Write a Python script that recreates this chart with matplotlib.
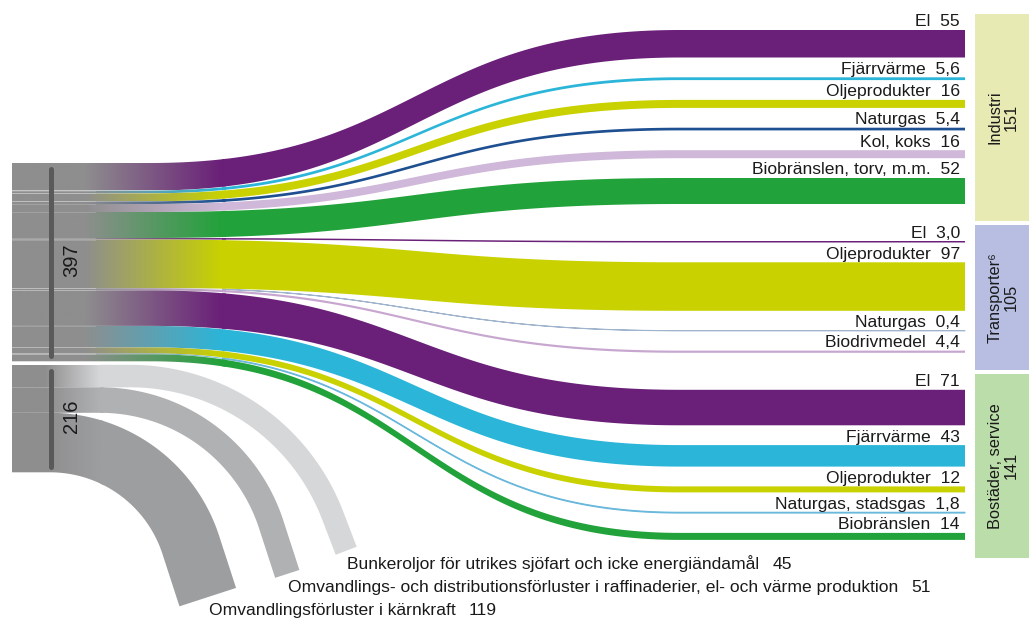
import numpy as np
import matplotlib
matplotlib.use('Agg')
import matplotlib.pyplot as plt
from matplotlib.path import Path
from matplotlib.patches import PathPatch, Rectangle
from matplotlib.colors import to_rgb

# ---------------- data ----------------
sectors = ['Industri', 'Transporter⁶', 'Bostäder, service']
sector_totals = [151, 105, 141]
sector_colors = ['#e8eab4', '#b7bee2', '#badda9']

industri_labels = ['El', 'Fjärrvärme', 'Oljeprodukter', 'Naturgas', 'Kol, koks', 'Biobränslen, torv, m.m.']
industri_values = [55, 5.6, 16, 5.4, 16, 52]
industri_colors = ['#6a1f78', '#2bb5d8', '#c9d200', '#1d4f91', '#cfb8d9', '#22a23a']

transport_labels = ['El', 'Oljeprodukter', 'Naturgas', 'Biodrivmedel']
transport_values = [3.0, 97, 0.4, 4.4]
transport_colors = ['#6a1f78', '#c9d200', '#9fb3cc', '#c7a7cf']

bostader_labels = ['El', 'Fjärrvärme', 'Oljeprodukter', 'Naturgas, stadsgas', 'Biobränslen']
bostader_values = [71, 43, 12, 1.8, 14]
bostader_colors = ['#6a1f78', '#2bb5d8', '#c9d200', '#6ab8dc', '#22a23a']

loss_labels = ['Bunkeroljor för utrikes sjöfart och icke energiändamål',
               'Omvandlings- och distributionsförluster i raffinaderier, el- och värme produktion',
               'Omvandlingsförluster i kärnkraft']
loss_values = [45, 51, 119]
loss_colors = ['#d6d7d9', '#b0b1b3', '#9d9ea0']

block_totals = [397, 216]

# ---------------- layout ----------------
FONT = ['Liberation Sans', 'DejaVu Sans']
plt.rcParams['font.family'] = FONT
S = 0.5            # px per unit
X_LEFT, X_RIGHT = 12, 965
CX0, CX1 = 150, 680
BLOCK_TOP = 163
RIGHT_TOP = 30
IN_GAP = 19.8
GROUP_GAP = 37
GRAY = '#8e8e8e'
G0, G1 = 85, 222
TXT = '#1a1a1a'
FS = 12.6

fig = plt.figure(figsize=(10.29, 6.19), dpi=100)
ax = fig.add_axes([0, 0, 1, 1])
ax.set_xlim(0, 1029)
ax.set_ylim(619, 0)
ax.axis('off')


def fmt(v):
    if v >= 10:
        return f'{v:.0f}'
    return f'{v:.1f}'.replace('.', ',')


def gradient_image(color, x0, x1, g0, g1, n=400):
    xs = np.linspace(x0, x1, n)
    f = np.clip((xs - g0) / (g1 - g0), 0, 1)
    c0 = np.array(to_rgb(GRAY))
    c1 = np.array(to_rgb(color))
    rgb = c0[None, :] * (1 - f[:, None]) + c1[None, :] * f[:, None]
    img = np.ones((2, n, 4))
    img[:, :, :3] = rgb[None, :, :]
    return img


def draw_band(top_pts, bot_pts, color, g0, g1, solid_from, thin=False):
    verts = np.vstack([top_pts, bot_pts[::-1], top_pts[:1]])
    codes = [Path.MOVETO] + [Path.LINETO] * (len(verts) - 2) + [Path.CLOSEPOLY]
    path = Path(verts, codes)
    solid = PathPatch(path, facecolor=color, edgecolor=color if thin else 'none',
                      lw=0.7 if thin else 0, zorder=2)
    ax.add_patch(solid)
    clip_rect = Rectangle((solid_from, -100), 2000, 1000, transform=ax.transData,
                          visible=False)
    ax.add_patch(clip_rect)
    solid.set_clip_path(clip_rect)
    clip = PathPatch(path, facecolor='none', edgecolor='none')
    ax.add_patch(clip)
    ymin, ymax = verts[:, 1].min(), verts[:, 1].max()
    xe = solid_from + 4
    im = ax.imshow(gradient_image(color, X_LEFT, xe, g0, g1), extent=(X_LEFT, xe, ymax, ymin),
                   aspect='auto', interpolation='bilinear', zorder=2.1)
    im.set_clip_path(clip)


def bezier_edge(yl, yr, n=160):
    t = np.linspace(0, 1, n)
    xm = (CX0 + CX1) / 2
    bx = (1 - t) ** 3 * CX0 + 3 * (1 - t) ** 2 * t * xm + 3 * (1 - t) * t ** 2 * xm + t ** 3 * CX1
    by = ((1 - t) ** 3 + 3 * (1 - t) ** 2 * t) * yl + (3 * (1 - t) * t ** 2 + t ** 3) * yr
    xs = np.concatenate([[X_LEFT], bx, [X_RIGHT]])
    ys = np.concatenate([[yl], by, [yr]])
    return np.column_stack([xs, ys])


groups = [
    (industri_labels, industri_values, industri_colors),
    (transport_labels, transport_values, transport_colors),
    (bostader_labels, bostader_values, bostader_colors),
]

yl = BLOCK_TOP
yr = RIGHT_TOP
group_tops, group_bottoms = [], []
boundaries = []
for gi, (labels, values, colors) in enumerate(groups):
    if gi > 0:
        yr += GROUP_GAP
    for j, (lab, v, c) in enumerate(zip(labels, values, colors)):
        if j > 0:
            yr += IN_GAP
        w = v * S
        if j == 0:
            group_tops.append(yr)
        top = bezier_edge(yl, yr)
        bot = bezier_edge(yl + w, yr + w)
        draw_band(top, bot, c, G0, G1, solid_from=G1, thin=(w < 1.2))
        ax.text(X_RIGHT - 5, yr - 3.5, f'{lab}  {fmt(v)}', ha='right', va='baseline',
                fontsize=FS, color=TXT, zorder=5)
        yl += w
        yr += w
        boundaries.append(yl)
    group_bottoms.append(yr)

block1_bottom = yl

# sector boxes
box_x = 975
box_tops = [t - 16 for t in group_tops]
box_bottoms = [box_tops[1] - 4, box_tops[2] - 4, group_bottoms[2] + 18]
for name, tot, col, bt, bb in zip(sectors, sector_totals, sector_colors, box_tops, box_bottoms):
    ax.add_patch(Rectangle((box_x, bt), 1029 - box_x, bb - bt, facecolor=col, edgecolor='none', zorder=1))
    ax.text((box_x + 1029) / 2 + 1, (bt + bb) / 2, f'{name}\n{tot}', rotation=90, ha='center',
            va='center', fontsize=11.8, color=TXT, linespacing=1.05, multialignment='center', zorder=5)

# faint separator lines in the grey block
for b in boundaries[:-1]:
    ax.plot([X_LEFT, 95], [b, b], color='white', lw=0.7, alpha=0.18, zorder=3)

# ---------------- loss bands ----------------
loss_geom = [  # bend start x, radius, turn angle (deg), straight length after arc
    (130, 217, 69, 38),
    (100, 180, 72, 52),
    (50, 148, 72, 55),
]
yl2 = block1_bottom + 3.5
block2_top = yl2
for lab, v, c, (xb, R, th_deg, L) in zip(loss_labels, loss_values, loss_colors, loss_geom):
    w = v * S
    yc = yl2 + w / 2
    th = np.radians(th_deg)
    xs_line = np.linspace(X_LEFT, xb, 30)
    p_line = np.column_stack([xs_line, np.full_like(xs_line, yc)])
    n_line = np.tile([0.0, -1.0], (len(xs_line), 1))
    a = np.linspace(0, th, 200)
    p_arc = np.column_stack([xb + R * np.sin(a), yc + R - R * np.cos(a)])
    n_arc = np.column_stack([np.sin(a), -np.cos(a)])
    s = np.linspace(0, L, 20)
    p_end = p_arc[-1] + np.column_stack([s * np.cos(th), s * np.sin(th)])
    n_end = np.tile([np.sin(th), -np.cos(th)], (len(s), 1))
    P = np.vstack([p_line, p_arc, p_end])
    N = np.vstack([n_line, n_arc, n_end])
    top = P + N * w / 2
    bot = P - N * w / 2
    draw_band(top, bot, c, 45, 100, solid_from=100)
    ex, ey = P[-1]
    t = ax.text(ex + 1, ey + 18, lab, ha='left', va='baseline', fontsize=FS, color=TXT, zorder=5)
    fig.canvas.draw()
    bb = t.get_window_extent(fig.canvas.get_renderer())
    x_end = ax.transData.inverted().transform((bb.x1, 0))[0]
    ax.text(x_end + 13, ey + 18, fmt(v), ha='left', va='baseline', fontsize=FS, color=TXT, zorder=5)
    yl2 += w
block2_bottom = yl2

# dark bars and totals
for (t0, t1), tot in zip([(BLOCK_TOP, block1_bottom), (block2_top, block2_bottom)], block_totals):
    ax.plot([50.5, 50.5], [t0 + 6, t1 - 5], color='#5a5a5a', lw=3.6, solid_capstyle='round', zorder=4)
    ax.text(72, (t0 + t1) / 2 - 2, str(tot), rotation=90, ha='center', va='center',
            fontsize=14.5, color=TXT, zorder=5)

fig.savefig('out.png', dpi=100)
